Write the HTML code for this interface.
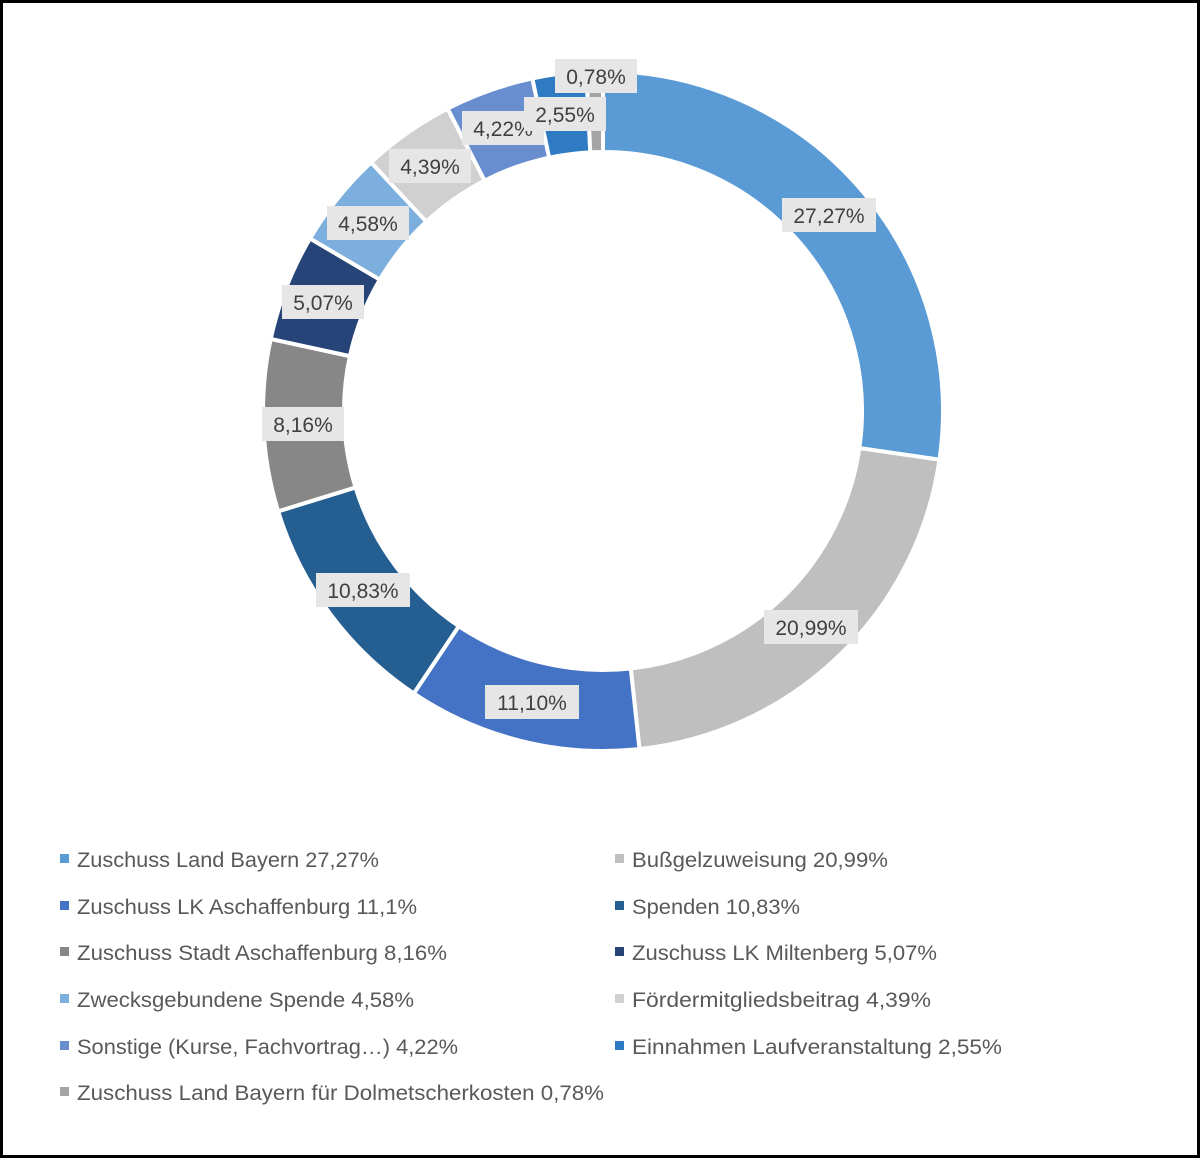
<!DOCTYPE html>
<html><head><meta charset="utf-8"><style>
html,body{margin:0;padding:0;background:#fff}
svg{display:block}
text{font-family:"Liberation Sans",sans-serif}
</style></head><body>
<svg id="s" width="1200" height="1158" viewBox="0 0 1200 1158" xmlns="http://www.w3.org/2000/svg">
<rect x="1.5" y="1.5" width="1197" height="1155" fill="#fff" stroke="#000" stroke-width="3"/>
<g id="donut"></g>
<g id="labels" font-size="21" fill="#404040"></g>
<g id="legend" font-size="21" fill="#595959"></g>
</svg>
<script>
var ns="http://www.w3.org/2000/svg";
var data=[27.27,20.99,11.10,10.83,8.16,5.07,4.58,4.39,4.22,2.55,0.78];
var cols=["#5B9BD5","#BFBFBF","#4472C4","#255E91","#878787","#264478","#7CAFDD","#D0D0D0","#698ED0","#2E7BC4","#A5A5A5"];
var cx=603,cy=411,R=340,r=259;
var tot=data.reduce(function(a,b){return a+b},0);
var a=0,g=document.getElementById("donut");
function pt(rad,ang){return [cx+rad*Math.sin(ang),cy-rad*Math.cos(ang)];}
data.forEach(function(v,i){
 var a0=a/tot*2*Math.PI,a1=(a+v)/tot*2*Math.PI;a+=v;
 var lg=(a1-a0)>Math.PI?1:0;
 var p0=pt(R,a0),p1=pt(R,a1),q1=pt(r,a1),q0=pt(r,a0);
 var p=document.createElementNS(ns,"path");
 p.setAttribute("d","M"+p0+"A"+R+","+R+" 0 "+lg+" 1 "+p1+"L"+q1+"A"+r+","+r+" 0 "+lg+" 0 "+q0+"Z");
 p.setAttribute("fill",cols[i]);p.setAttribute("stroke","#fff");p.setAttribute("stroke-width","4");
 g.appendChild(p);
});
var labs=[["27,27%",829,215],["20,99%",811,627],["11,10%",532,702],["10,83%",363,590],["8,16%",303,424],["5,07%",323,302],["4,58%",368,223],["4,39%",430,166],["4,22%",503,128],["2,55%",565,114],["0,78%",596,76]];
var lg=document.getElementById("labels");
labs.forEach(function(l){
 var w=l[0].length>5?94:82;
 var rc=document.createElementNS(ns,"rect");
 rc.setAttribute("x",l[1]-w/2);rc.setAttribute("y",l[2]-17);rc.setAttribute("width",w);rc.setAttribute("height",34);rc.setAttribute("fill","#E6E6E6");
 lg.appendChild(rc);
 var t=document.createElementNS(ns,"text");
 t.setAttribute("x",l[1]);t.setAttribute("y",l[2]+8);t.setAttribute("text-anchor","middle");t.textContent=l[0];
 lg.appendChild(t);
});
var leg=[["Zuschuss Land Bayern 27,27%",302],["Bußgelzuweisung 20,99%",256],["Zuschuss LK Aschaffenburg 11,1%",340],["Spenden 10,83%",168],["Zuschuss Stadt Aschaffenburg 8,16%",370],["Zuschuss LK Miltenberg 5,07%",305],["Zwecksgebundene Spende 4,58%",337],["Fördermitgliedsbeitrag 4,39%",299],["Sonstige (Kurse, Fachvortrag…) 4,22%",381],["Einnahmen Laufveranstaltung 2,55%",370],["Zuschuss Land Bayern für Dolmetscherkosten 0,78%",527]];
var ys=[859,906,952,999,1046,1092];
var G=document.getElementById("legend");
leg.forEach(function(l,i){
 var col=i%2,row=Math.floor(i/2);
 var mx=col?615:60,tx=col?632:77,y=ys[row];
 var rc=document.createElementNS(ns,"rect");
 rc.setAttribute("x",mx);rc.setAttribute("y",y-5);rc.setAttribute("width",9);rc.setAttribute("height",9);rc.setAttribute("fill",cols[i]);
 G.appendChild(rc);
 var t=document.createElementNS(ns,"text");
 t.setAttribute("x",tx);t.setAttribute("y",y+8);t.setAttribute("textLength",l[1]);t.setAttribute("lengthAdjust","spacingAndGlyphs");t.textContent=l[0];
 G.appendChild(t);
});
</script>
</body></html>
